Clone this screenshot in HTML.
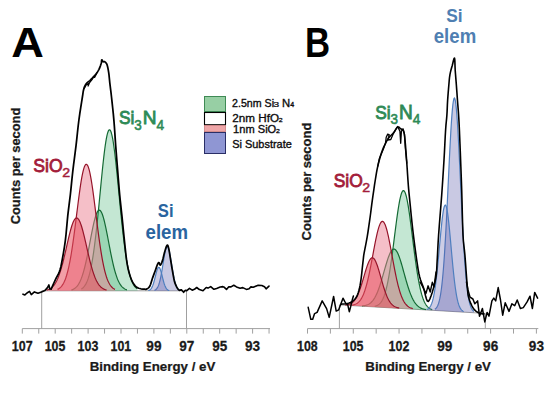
<!DOCTYPE html>
<html><head><meta charset="utf-8"><style>
html,body{margin:0;padding:0;background:#fff;}
svg{display:block;}
</style></head><body>
<svg width="553" height="394" viewBox="0 0 553 394">
<rect width="553" height="394" fill="#fff"/>
<line x1="22.3" y1="328.6" x2="270" y2="328.6" stroke="#a0a0a0" stroke-width="1"/><line x1="22.30" y1="328.6" x2="22.30" y2="333.6" stroke="#a0a0a0" stroke-width="1"/><line x1="38.75" y1="328.6" x2="38.75" y2="333.6" stroke="#a0a0a0" stroke-width="1"/><line x1="55.20" y1="328.6" x2="55.20" y2="333.6" stroke="#a0a0a0" stroke-width="1"/><line x1="71.65" y1="328.6" x2="71.65" y2="333.6" stroke="#a0a0a0" stroke-width="1"/><line x1="88.10" y1="328.6" x2="88.10" y2="333.6" stroke="#a0a0a0" stroke-width="1"/><line x1="104.55" y1="328.6" x2="104.55" y2="333.6" stroke="#a0a0a0" stroke-width="1"/><line x1="121.00" y1="328.6" x2="121.00" y2="333.6" stroke="#a0a0a0" stroke-width="1"/><line x1="137.45" y1="328.6" x2="137.45" y2="333.6" stroke="#a0a0a0" stroke-width="1"/><line x1="153.90" y1="328.6" x2="153.90" y2="333.6" stroke="#a0a0a0" stroke-width="1"/><line x1="170.35" y1="328.6" x2="170.35" y2="333.6" stroke="#a0a0a0" stroke-width="1"/><line x1="186.80" y1="328.6" x2="186.80" y2="333.6" stroke="#a0a0a0" stroke-width="1"/><line x1="203.25" y1="328.6" x2="203.25" y2="333.6" stroke="#a0a0a0" stroke-width="1"/><line x1="219.70" y1="328.6" x2="219.70" y2="333.6" stroke="#a0a0a0" stroke-width="1"/><line x1="236.15" y1="328.6" x2="236.15" y2="333.6" stroke="#a0a0a0" stroke-width="1"/><line x1="252.60" y1="328.6" x2="252.60" y2="333.6" stroke="#a0a0a0" stroke-width="1"/><line x1="269.05" y1="328.6" x2="269.05" y2="333.6" stroke="#a0a0a0" stroke-width="1"/><line x1="41.7" y1="290.8" x2="186.5" y2="290.8" stroke="#a0a0a0" stroke-width="1"/><line x1="41.7" y1="290.8" x2="41.7" y2="328.6" stroke="#a0a0a0" stroke-width="1"/><line x1="186.5" y1="290.8" x2="186.5" y2="328.6" stroke="#a0a0a0" stroke-width="1"/><line x1="307.5" y1="328.6" x2="538.3" y2="328.6" stroke="#a0a0a0" stroke-width="1"/><line x1="307.50" y1="328.6" x2="307.50" y2="333.6" stroke="#a0a0a0" stroke-width="1"/><line x1="330.39" y1="328.6" x2="330.39" y2="333.6" stroke="#a0a0a0" stroke-width="1"/><line x1="353.28" y1="328.6" x2="353.28" y2="333.6" stroke="#a0a0a0" stroke-width="1"/><line x1="376.17" y1="328.6" x2="376.17" y2="333.6" stroke="#a0a0a0" stroke-width="1"/><line x1="399.06" y1="328.6" x2="399.06" y2="333.6" stroke="#a0a0a0" stroke-width="1"/><line x1="421.95" y1="328.6" x2="421.95" y2="333.6" stroke="#a0a0a0" stroke-width="1"/><line x1="444.84" y1="328.6" x2="444.84" y2="333.6" stroke="#a0a0a0" stroke-width="1"/><line x1="467.73" y1="328.6" x2="467.73" y2="333.6" stroke="#a0a0a0" stroke-width="1"/><line x1="490.62" y1="328.6" x2="490.62" y2="333.6" stroke="#a0a0a0" stroke-width="1"/><line x1="513.51" y1="328.6" x2="513.51" y2="333.6" stroke="#a0a0a0" stroke-width="1"/><line x1="536.40" y1="328.6" x2="536.40" y2="333.6" stroke="#a0a0a0" stroke-width="1"/><line x1="339.4" y1="304.87" x2="485.3" y2="313.42" stroke="#a0a0a0" stroke-width="1"/><line x1="339.4" y1="304.87" x2="339.4" y2="328.6" stroke="#a0a0a0" stroke-width="1"/><line x1="485.3" y1="313.42" x2="485.3" y2="328.6" stroke="#a0a0a0" stroke-width="1"/>
<path d="M81.30,289.01 L81.80,288.70 L82.30,288.35 L82.80,287.95 L83.30,287.49 L83.80,286.97 L84.30,286.37 L84.80,285.70 L85.30,284.94 L85.80,284.09 L86.30,283.14 L86.80,282.08 L87.30,280.90 L87.80,279.59 L88.30,278.14 L88.80,276.55 L89.30,274.80 L89.80,272.89 L90.30,270.81 L90.80,268.54 L91.30,266.09 L91.80,263.45 L92.30,260.62 L92.80,257.58 L93.30,254.34 L93.80,250.89 L94.30,247.24 L94.80,243.40 L95.30,239.36 L95.80,235.14 L96.30,230.73 L96.80,226.17 L97.30,221.45 L97.80,216.60 L98.30,211.63 L98.80,206.57 L99.30,201.44 L99.80,196.26 L100.30,191.07 L100.80,185.89 L101.30,180.75 L101.80,175.69 L102.30,170.73 L102.80,165.92 L103.30,161.27 L103.80,156.84 L104.30,152.64 L104.80,148.72 L105.30,145.09 L105.80,141.80 L106.30,138.86 L106.80,136.31 L107.30,134.15 L107.80,132.41 L108.30,131.11 L108.80,130.25 L109.30,129.84 L109.80,129.88 L110.30,130.38 L110.80,131.33 L111.30,132.72 L111.80,134.55 L112.30,136.79 L112.80,139.42 L113.30,142.43 L113.80,145.79 L114.30,149.48 L114.80,153.46 L115.30,157.71 L115.80,162.19 L116.30,166.87 L116.80,171.71 L117.30,176.69 L117.80,181.77 L118.30,186.92 L118.80,192.11 L119.30,197.30 L119.80,202.47 L120.30,207.59 L120.80,212.63 L121.30,217.58 L121.80,222.40 L122.30,227.09 L122.80,231.63 L123.30,236.00 L123.80,240.18 L124.30,244.18 L124.80,247.99 L125.30,251.60 L125.80,255.00 L126.30,258.20 L126.80,261.20 L127.30,264.00 L127.80,266.60 L128.30,269.01 L128.80,271.24 L129.30,273.29 L129.80,275.16 L130.30,276.88 L130.80,278.44 L131.30,279.86 L131.80,281.15 L132.30,282.30 L132.80,283.34 L133.30,284.27 L133.80,285.10 L134.30,285.84 L134.80,286.50 L135.30,287.08 L135.80,287.59 L136.30,288.03 L136.80,288.43 L137.30,288.77 L137.70,290.80 L81.30,290.80 Z" fill="rgb(60,175,110)" fill-opacity="0.3" stroke="none"/>
<path d="M81.30,289.01 L81.80,288.70 L82.30,288.35 L82.80,287.95 L83.30,287.49 L83.80,286.97 L84.30,286.37 L84.80,285.70 L85.30,284.94 L85.80,284.09 L86.30,283.14 L86.80,282.08 L87.30,280.90 L87.80,279.59 L88.30,278.14 L88.80,276.55 L89.30,274.80 L89.80,272.89 L90.30,270.81 L90.80,268.54 L91.30,266.09 L91.80,263.45 L92.30,260.62 L92.80,257.58 L93.30,254.34 L93.80,250.89 L94.30,247.24 L94.80,243.40 L95.30,239.36 L95.80,235.14 L96.30,230.73 L96.80,226.17 L97.30,221.45 L97.80,216.60 L98.30,211.63 L98.80,206.57 L99.30,201.44 L99.80,196.26 L100.30,191.07 L100.80,185.89 L101.30,180.75 L101.80,175.69 L102.30,170.73 L102.80,165.92 L103.30,161.27 L103.80,156.84 L104.30,152.64 L104.80,148.72 L105.30,145.09 L105.80,141.80 L106.30,138.86 L106.80,136.31 L107.30,134.15 L107.80,132.41 L108.30,131.11 L108.80,130.25 L109.30,129.84 L109.80,129.88 L110.30,130.38 L110.80,131.33 L111.30,132.72 L111.80,134.55 L112.30,136.79 L112.80,139.42 L113.30,142.43 L113.80,145.79 L114.30,149.48 L114.80,153.46 L115.30,157.71 L115.80,162.19 L116.30,166.87 L116.80,171.71 L117.30,176.69 L117.80,181.77 L118.30,186.92 L118.80,192.11 L119.30,197.30 L119.80,202.47 L120.30,207.59 L120.80,212.63 L121.30,217.58 L121.80,222.40 L122.30,227.09 L122.80,231.63 L123.30,236.00 L123.80,240.18 L124.30,244.18 L124.80,247.99 L125.30,251.60 L125.80,255.00 L126.30,258.20 L126.80,261.20 L127.30,264.00 L127.80,266.60 L128.30,269.01 L128.80,271.24 L129.30,273.29 L129.80,275.16 L130.30,276.88 L130.80,278.44 L131.30,279.86 L131.80,281.15 L132.30,282.30 L132.80,283.34 L133.30,284.27 L133.80,285.10 L134.30,285.84 L134.80,286.50 L135.30,287.08 L135.80,287.59 L136.30,288.03 L136.80,288.43 L137.30,288.77" fill="none" stroke="#146a34" stroke-width="1.2"/>
<path d="M71.40,289.90 L71.90,289.75 L72.40,289.57 L72.90,289.37 L73.40,289.13 L73.90,288.87 L74.40,288.56 L74.90,288.22 L75.40,287.83 L75.90,287.40 L76.40,286.91 L76.90,286.37 L77.40,285.76 L77.90,285.09 L78.40,284.35 L78.90,283.53 L79.40,282.63 L79.90,281.65 L80.40,280.58 L80.90,279.42 L81.40,278.16 L81.90,276.80 L82.40,275.34 L82.90,273.78 L83.40,272.11 L83.90,270.34 L84.40,268.47 L84.90,266.49 L85.40,264.42 L85.90,262.26 L86.40,260.00 L86.90,257.66 L87.40,255.25 L87.90,252.78 L88.40,250.25 L88.90,247.67 L89.40,245.06 L89.90,242.44 L90.40,239.81 L90.90,237.20 L91.40,234.61 L91.90,232.07 L92.40,229.59 L92.90,227.19 L93.40,224.89 L93.90,222.70 L94.40,220.65 L94.90,218.73 L95.40,216.98 L95.90,215.41 L96.40,214.02 L96.90,212.84 L97.40,211.86 L97.90,211.11 L98.40,210.58 L98.90,210.27 L99.40,210.20 L99.90,210.37 L100.40,210.76 L100.90,211.38 L101.40,212.23 L101.90,213.29 L102.40,214.56 L102.90,216.02 L103.40,217.66 L103.90,219.48 L104.40,221.45 L104.90,223.56 L105.40,225.80 L105.90,228.14 L106.40,230.58 L106.90,233.08 L107.40,235.64 L107.90,238.24 L108.40,240.86 L108.90,243.49 L109.40,246.11 L109.90,248.70 L110.40,251.26 L110.90,253.77 L111.40,256.23 L111.90,258.61 L112.40,260.91 L112.90,263.13 L113.40,265.26 L113.90,267.29 L114.40,269.23 L114.90,271.06 L115.40,272.79 L115.90,274.41 L116.40,275.93 L116.90,277.35 L117.40,278.67 L117.90,279.89 L118.40,281.02 L118.90,282.05 L119.40,283.00 L119.90,283.87 L120.40,284.65 L120.90,285.37 L121.40,286.01 L121.90,286.59 L122.40,287.11 L122.90,287.58 L123.40,287.99 L123.90,288.36 L124.40,288.69 L124.90,288.98 L125.40,289.23 L125.90,289.45 L126.40,289.65 L126.90,289.81 L127.20,290.80 L71.40,290.80 Z" fill="rgb(60,175,110)" fill-opacity="0.3" stroke="none"/>
<path d="M71.40,289.90 L71.90,289.75 L72.40,289.57 L72.90,289.37 L73.40,289.13 L73.90,288.87 L74.40,288.56 L74.90,288.22 L75.40,287.83 L75.90,287.40 L76.40,286.91 L76.90,286.37 L77.40,285.76 L77.90,285.09 L78.40,284.35 L78.90,283.53 L79.40,282.63 L79.90,281.65 L80.40,280.58 L80.90,279.42 L81.40,278.16 L81.90,276.80 L82.40,275.34 L82.90,273.78 L83.40,272.11 L83.90,270.34 L84.40,268.47 L84.90,266.49 L85.40,264.42 L85.90,262.26 L86.40,260.00 L86.90,257.66 L87.40,255.25 L87.90,252.78 L88.40,250.25 L88.90,247.67 L89.40,245.06 L89.90,242.44 L90.40,239.81 L90.90,237.20 L91.40,234.61 L91.90,232.07 L92.40,229.59 L92.90,227.19 L93.40,224.89 L93.90,222.70 L94.40,220.65 L94.90,218.73 L95.40,216.98 L95.90,215.41 L96.40,214.02 L96.90,212.84 L97.40,211.86 L97.90,211.11 L98.40,210.58 L98.90,210.27 L99.40,210.20 L99.90,210.37 L100.40,210.76 L100.90,211.38 L101.40,212.23 L101.90,213.29 L102.40,214.56 L102.90,216.02 L103.40,217.66 L103.90,219.48 L104.40,221.45 L104.90,223.56 L105.40,225.80 L105.90,228.14 L106.40,230.58 L106.90,233.08 L107.40,235.64 L107.90,238.24 L108.40,240.86 L108.90,243.49 L109.40,246.11 L109.90,248.70 L110.40,251.26 L110.90,253.77 L111.40,256.23 L111.90,258.61 L112.40,260.91 L112.90,263.13 L113.40,265.26 L113.90,267.29 L114.40,269.23 L114.90,271.06 L115.40,272.79 L115.90,274.41 L116.40,275.93 L116.90,277.35 L117.40,278.67 L117.90,279.89 L118.40,281.02 L118.90,282.05 L119.40,283.00 L119.90,283.87 L120.40,284.65 L120.90,285.37 L121.40,286.01 L121.90,286.59 L122.40,287.11 L122.90,287.58 L123.40,287.99 L123.90,288.36 L124.40,288.69 L124.90,288.98 L125.40,289.23 L125.90,289.45 L126.40,289.65 L126.90,289.81" fill="none" stroke="#146a34" stroke-width="1.2"/>
<path d="M57.50,289.39 L58.00,289.16 L58.50,288.89 L59.00,288.58 L59.50,288.23 L60.00,287.83 L60.50,287.38 L61.00,286.87 L61.50,286.30 L62.00,285.66 L62.50,284.95 L63.00,284.15 L63.50,283.26 L64.00,282.28 L64.50,281.20 L65.00,280.01 L65.50,278.70 L66.00,277.28 L66.50,275.72 L67.00,274.03 L67.50,272.21 L68.00,270.24 L68.50,268.12 L69.00,265.86 L69.50,263.44 L70.00,260.87 L70.50,258.15 L71.00,255.28 L71.50,252.25 L72.00,249.09 L72.50,245.78 L73.00,242.35 L73.50,238.79 L74.00,235.13 L74.50,231.37 L75.00,227.53 L75.50,223.62 L76.00,219.66 L76.50,215.67 L77.00,211.68 L77.50,207.70 L78.00,203.75 L78.50,199.86 L79.00,196.06 L79.50,192.37 L80.00,188.81 L80.50,185.40 L81.00,182.18 L81.50,179.16 L82.00,176.37 L82.50,173.83 L83.00,171.56 L83.50,169.57 L84.00,167.88 L84.50,166.50 L85.00,165.45 L85.50,164.74 L86.00,164.36 L86.50,164.33 L87.00,164.64 L87.50,165.28 L88.00,166.27 L88.50,167.58 L89.00,169.21 L89.50,171.14 L90.00,173.36 L90.50,175.85 L91.00,178.59 L91.50,181.56 L92.00,184.74 L92.50,188.11 L93.00,191.64 L93.50,195.31 L94.00,199.10 L94.50,202.97 L95.00,206.90 L95.50,210.88 L96.00,214.87 L96.50,218.86 L97.00,222.83 L97.50,226.75 L98.00,230.61 L98.50,234.39 L99.00,238.07 L99.50,241.65 L100.00,245.11 L100.50,248.44 L101.00,251.63 L101.50,254.68 L102.00,257.59 L102.50,260.34 L103.00,262.94 L103.50,265.39 L104.00,267.68 L104.50,269.83 L105.00,271.83 L105.50,273.68 L106.00,275.39 L106.50,276.97 L107.00,278.43 L107.50,279.76 L108.00,280.97 L108.50,282.07 L109.00,283.07 L109.50,283.98 L110.00,284.79 L110.50,285.53 L111.00,286.18 L111.50,286.77 L112.00,287.29 L112.50,287.75 L113.00,288.16 L113.50,288.52 L114.00,288.83 L114.50,289.11 L115.00,289.35 L115.10,290.80 L57.50,290.80 Z" fill="rgb(236,128,145)" fill-opacity="0.5" stroke="none"/>
<path d="M57.50,289.39 L58.00,289.16 L58.50,288.89 L59.00,288.58 L59.50,288.23 L60.00,287.83 L60.50,287.38 L61.00,286.87 L61.50,286.30 L62.00,285.66 L62.50,284.95 L63.00,284.15 L63.50,283.26 L64.00,282.28 L64.50,281.20 L65.00,280.01 L65.50,278.70 L66.00,277.28 L66.50,275.72 L67.00,274.03 L67.50,272.21 L68.00,270.24 L68.50,268.12 L69.00,265.86 L69.50,263.44 L70.00,260.87 L70.50,258.15 L71.00,255.28 L71.50,252.25 L72.00,249.09 L72.50,245.78 L73.00,242.35 L73.50,238.79 L74.00,235.13 L74.50,231.37 L75.00,227.53 L75.50,223.62 L76.00,219.66 L76.50,215.67 L77.00,211.68 L77.50,207.70 L78.00,203.75 L78.50,199.86 L79.00,196.06 L79.50,192.37 L80.00,188.81 L80.50,185.40 L81.00,182.18 L81.50,179.16 L82.00,176.37 L82.50,173.83 L83.00,171.56 L83.50,169.57 L84.00,167.88 L84.50,166.50 L85.00,165.45 L85.50,164.74 L86.00,164.36 L86.50,164.33 L87.00,164.64 L87.50,165.28 L88.00,166.27 L88.50,167.58 L89.00,169.21 L89.50,171.14 L90.00,173.36 L90.50,175.85 L91.00,178.59 L91.50,181.56 L92.00,184.74 L92.50,188.11 L93.00,191.64 L93.50,195.31 L94.00,199.10 L94.50,202.97 L95.00,206.90 L95.50,210.88 L96.00,214.87 L96.50,218.86 L97.00,222.83 L97.50,226.75 L98.00,230.61 L98.50,234.39 L99.00,238.07 L99.50,241.65 L100.00,245.11 L100.50,248.44 L101.00,251.63 L101.50,254.68 L102.00,257.59 L102.50,260.34 L103.00,262.94 L103.50,265.39 L104.00,267.68 L104.50,269.83 L105.00,271.83 L105.50,273.68 L106.00,275.39 L106.50,276.97 L107.00,278.43 L107.50,279.76 L108.00,280.97 L108.50,282.07 L109.00,283.07 L109.50,283.98 L110.00,284.79 L110.50,285.53 L111.00,286.18 L111.50,286.77 L112.00,287.29 L112.50,287.75 L113.00,288.16 L113.50,288.52 L114.00,288.83 L114.50,289.11 L115.00,289.35" fill="none" stroke="#96142a" stroke-width="1.2"/>
<path d="M46.60,289.99 L47.10,289.86 L47.60,289.71 L48.10,289.55 L48.60,289.36 L49.10,289.14 L49.60,288.90 L50.10,288.63 L50.60,288.32 L51.10,287.98 L51.60,287.60 L52.10,287.18 L52.60,286.71 L53.10,286.20 L53.60,285.63 L54.10,285.01 L54.60,284.33 L55.10,283.58 L55.60,282.77 L56.10,281.90 L56.60,280.95 L57.10,279.93 L57.60,278.83 L58.10,277.65 L58.60,276.39 L59.10,275.06 L59.60,273.64 L60.10,272.14 L60.60,270.56 L61.10,268.90 L61.60,267.17 L62.10,265.36 L62.60,263.48 L63.10,261.53 L63.60,259.53 L64.10,257.47 L64.60,255.36 L65.10,253.22 L65.60,251.05 L66.10,248.85 L66.60,246.64 L67.10,244.44 L67.60,242.24 L68.10,240.07 L68.60,237.94 L69.10,235.85 L69.60,233.82 L70.10,231.86 L70.60,229.99 L71.10,228.22 L71.60,226.55 L72.10,225.01 L72.60,223.60 L73.10,222.33 L73.60,221.20 L74.10,220.24 L74.60,219.44 L75.10,218.81 L75.60,218.36 L76.10,218.09 L76.60,218.00 L77.10,218.09 L77.60,218.36 L78.10,218.81 L78.60,219.44 L79.10,220.24 L79.60,221.20 L80.10,222.33 L80.60,223.60 L81.10,225.01 L81.60,226.55 L82.10,228.22 L82.60,229.99 L83.10,231.86 L83.60,233.82 L84.10,235.85 L84.60,237.94 L85.10,240.07 L85.60,242.24 L86.10,244.44 L86.60,246.64 L87.10,248.85 L87.60,251.05 L88.10,253.22 L88.60,255.36 L89.10,257.47 L89.60,259.53 L90.10,261.53 L90.60,263.48 L91.10,265.36 L91.60,267.17 L92.10,268.90 L92.60,270.56 L93.10,272.14 L93.60,273.64 L94.10,275.06 L94.60,276.39 L95.10,277.65 L95.60,278.83 L96.10,279.93 L96.60,280.95 L97.10,281.90 L97.60,282.77 L98.10,283.58 L98.60,284.33 L99.10,285.01 L99.60,285.63 L100.10,286.20 L100.60,286.71 L101.10,287.18 L101.60,287.60 L102.10,287.98 L102.60,288.32 L103.10,288.63 L103.60,288.90 L104.10,289.14 L104.60,289.36 L105.10,289.55 L105.60,289.71 L106.10,289.86 L106.60,289.99 L106.60,290.80 L46.60,290.80 Z" fill="rgb(232,80,95)" fill-opacity="0.55" stroke="none"/>
<path d="M46.60,289.99 L47.10,289.86 L47.60,289.71 L48.10,289.55 L48.60,289.36 L49.10,289.14 L49.60,288.90 L50.10,288.63 L50.60,288.32 L51.10,287.98 L51.60,287.60 L52.10,287.18 L52.60,286.71 L53.10,286.20 L53.60,285.63 L54.10,285.01 L54.60,284.33 L55.10,283.58 L55.60,282.77 L56.10,281.90 L56.60,280.95 L57.10,279.93 L57.60,278.83 L58.10,277.65 L58.60,276.39 L59.10,275.06 L59.60,273.64 L60.10,272.14 L60.60,270.56 L61.10,268.90 L61.60,267.17 L62.10,265.36 L62.60,263.48 L63.10,261.53 L63.60,259.53 L64.10,257.47 L64.60,255.36 L65.10,253.22 L65.60,251.05 L66.10,248.85 L66.60,246.64 L67.10,244.44 L67.60,242.24 L68.10,240.07 L68.60,237.94 L69.10,235.85 L69.60,233.82 L70.10,231.86 L70.60,229.99 L71.10,228.22 L71.60,226.55 L72.10,225.01 L72.60,223.60 L73.10,222.33 L73.60,221.20 L74.10,220.24 L74.60,219.44 L75.10,218.81 L75.60,218.36 L76.10,218.09 L76.60,218.00 L77.10,218.09 L77.60,218.36 L78.10,218.81 L78.60,219.44 L79.10,220.24 L79.60,221.20 L80.10,222.33 L80.60,223.60 L81.10,225.01 L81.60,226.55 L82.10,228.22 L82.60,229.99 L83.10,231.86 L83.60,233.82 L84.10,235.85 L84.60,237.94 L85.10,240.07 L85.60,242.24 L86.10,244.44 L86.60,246.64 L87.10,248.85 L87.60,251.05 L88.10,253.22 L88.60,255.36 L89.10,257.47 L89.60,259.53 L90.10,261.53 L90.60,263.48 L91.10,265.36 L91.60,267.17 L92.10,268.90 L92.60,270.56 L93.10,272.14 L93.60,273.64 L94.10,275.06 L94.60,276.39 L95.10,277.65 L95.60,278.83 L96.10,279.93 L96.60,280.95 L97.10,281.90 L97.60,282.77 L98.10,283.58 L98.60,284.33 L99.10,285.01 L99.60,285.63 L100.10,286.20 L100.60,286.71 L101.10,287.18 L101.60,287.60 L102.10,287.98 L102.60,288.32 L103.10,288.63 L103.60,288.90 L104.10,289.14 L104.60,289.36 L105.10,289.55 L105.60,289.71 L106.10,289.86 L106.60,289.99" fill="none" stroke="#96142a" stroke-width="1.2"/>
<path d="M154.40,290.31 L154.90,290.11 L155.40,289.84 L155.90,289.49 L156.40,289.03 L156.90,288.44 L157.40,287.69 L157.90,286.77 L158.40,285.63 L158.90,284.27 L159.40,282.66 L159.90,280.79 L160.40,278.66 L160.90,276.26 L161.40,273.64 L161.90,270.80 L162.40,267.81 L162.90,264.73 L163.40,261.64 L163.90,258.61 L164.40,255.75 L164.90,253.15 L165.40,250.89 L165.90,249.07 L166.40,247.75 L166.90,246.99 L167.40,246.81 L167.90,247.23 L168.40,248.22 L168.90,249.74 L169.40,251.75 L169.90,254.15 L170.40,256.87 L170.90,259.81 L171.40,262.87 L171.90,265.97 L172.40,269.02 L172.90,271.96 L173.40,274.71 L173.90,277.25 L174.40,279.54 L174.90,281.57 L175.40,283.34 L175.90,284.85 L176.40,286.11 L176.90,287.16 L177.40,288.01 L177.90,288.69 L178.40,289.23 L178.90,289.64 L179.40,289.96 L179.90,290.20 L180.20,290.80 L154.40,290.80 Z" fill="rgb(100,100,176)" fill-opacity="0.35" stroke="none"/>
<path d="M154.40,290.31 L154.90,290.11 L155.40,289.84 L155.90,289.49 L156.40,289.03 L156.90,288.44 L157.40,287.69 L157.90,286.77 L158.40,285.63 L158.90,284.27 L159.40,282.66 L159.90,280.79 L160.40,278.66 L160.90,276.26 L161.40,273.64 L161.90,270.80 L162.40,267.81 L162.90,264.73 L163.40,261.64 L163.90,258.61 L164.40,255.75 L164.90,253.15 L165.40,250.89 L165.90,249.07 L166.40,247.75 L166.90,246.99 L167.40,246.81 L167.90,247.23 L168.40,248.22 L168.90,249.74 L169.40,251.75 L169.90,254.15 L170.40,256.87 L170.90,259.81 L171.40,262.87 L171.90,265.97 L172.40,269.02 L172.90,271.96 L173.40,274.71 L173.90,277.25 L174.40,279.54 L174.90,281.57 L175.40,283.34 L175.90,284.85 L176.40,286.11 L176.90,287.16 L177.40,288.01 L177.90,288.69 L178.40,289.23 L178.90,289.64 L179.40,289.96 L179.90,290.20" fill="none" stroke="#4f7fbf" stroke-width="1.2"/>
<path d="M148.30,290.54 L148.80,290.40 L149.30,290.21 L149.80,289.94 L150.30,289.57 L150.80,289.08 L151.30,288.43 L151.80,287.62 L152.30,286.61 L152.80,285.39 L153.30,283.96 L153.80,282.33 L154.30,280.52 L154.80,278.57 L155.30,276.55 L155.80,274.52 L156.30,272.59 L156.80,270.84 L157.30,269.36 L157.80,268.24 L158.30,267.54 L158.80,267.30 L159.30,267.54 L159.80,268.24 L160.30,269.36 L160.80,270.84 L161.30,272.59 L161.80,274.52 L162.30,276.55 L162.80,278.57 L163.30,280.52 L163.80,282.33 L164.30,283.96 L164.80,285.39 L165.30,286.61 L165.80,287.62 L166.30,288.43 L166.80,289.08 L167.30,289.57 L167.80,289.94 L168.30,290.21 L168.80,290.40 L169.30,290.54 L169.30,290.80 L148.30,290.80 Z" fill="rgb(90,90,168)" fill-opacity="0.3" stroke="none"/>
<path d="M148.30,290.54 L148.80,290.40 L149.30,290.21 L149.80,289.94 L150.30,289.57 L150.80,289.08 L151.30,288.43 L151.80,287.62 L152.30,286.61 L152.80,285.39 L153.30,283.96 L153.80,282.33 L154.30,280.52 L154.80,278.57 L155.30,276.55 L155.80,274.52 L156.30,272.59 L156.80,270.84 L157.30,269.36 L157.80,268.24 L158.30,267.54 L158.80,267.30 L159.30,267.54 L159.80,268.24 L160.30,269.36 L160.80,270.84 L161.30,272.59 L161.80,274.52 L162.30,276.55 L162.80,278.57 L163.30,280.52 L163.80,282.33 L164.30,283.96 L164.80,285.39 L165.30,286.61 L165.80,287.62 L166.30,288.43 L166.80,289.08 L167.30,289.57 L167.80,289.94 L168.30,290.21 L168.80,290.40 L169.30,290.54" fill="none" stroke="#4f7fbf" stroke-width="1.2"/>
<path d="M374.70,306.23 L375.20,306.12 L375.70,305.99 L376.20,305.84 L376.70,305.65 L377.20,305.43 L377.70,305.17 L378.20,304.87 L378.70,304.52 L379.20,304.12 L379.70,303.65 L380.20,303.12 L380.70,302.52 L381.20,301.84 L381.70,301.07 L382.20,300.20 L382.70,299.24 L383.20,298.16 L383.70,296.97 L384.20,295.65 L384.70,294.21 L385.20,292.62 L385.70,290.89 L386.20,289.01 L386.70,286.97 L387.20,284.78 L387.70,282.43 L388.20,279.91 L388.70,277.23 L389.20,274.39 L389.70,271.39 L390.20,268.25 L390.70,264.95 L391.20,261.53 L391.70,257.97 L392.20,254.31 L392.70,250.55 L393.20,246.72 L393.70,242.82 L394.20,238.89 L394.70,234.95 L395.20,231.01 L395.70,227.11 L396.20,223.27 L396.70,219.53 L397.20,215.89 L397.70,212.41 L398.20,209.10 L398.70,205.99 L399.20,203.10 L399.70,200.46 L400.20,198.10 L400.70,196.03 L401.20,194.28 L401.70,192.85 L402.20,191.77 L402.70,191.04 L403.20,190.67 L403.70,190.66 L404.20,191.02 L404.70,191.74 L405.20,192.81 L405.70,194.23 L406.20,195.97 L406.70,198.04 L407.20,200.40 L407.70,203.04 L408.20,205.94 L408.70,209.07 L409.20,212.40 L409.70,215.91 L410.20,219.57 L410.70,223.36 L411.20,227.24 L411.70,231.19 L412.20,235.18 L412.70,239.18 L413.20,243.18 L413.70,247.14 L414.20,251.05 L414.70,254.88 L415.20,258.62 L415.70,262.25 L416.20,265.77 L416.70,269.15 L417.20,272.38 L417.70,275.47 L418.20,278.40 L418.70,281.17 L419.20,283.77 L419.70,286.22 L420.20,288.50 L420.70,290.63 L421.20,292.60 L421.70,294.42 L422.20,296.09 L422.70,297.62 L423.20,299.03 L423.70,300.30 L424.20,301.46 L424.70,302.50 L425.20,303.45 L425.70,304.29 L426.20,305.05 L426.70,305.73 L427.20,306.33 L427.70,306.87 L428.20,307.34 L428.70,307.76 L429.20,308.13 L429.70,308.45 L430.20,308.74 L430.70,308.99 L431.20,309.21 L431.70,309.40 L432.20,309.57 L432.30,310.31 L374.70,306.94 Z" fill="rgb(60,175,110)" fill-opacity="0.3" stroke="none"/>
<path d="M374.70,306.23 L375.20,306.12 L375.70,305.99 L376.20,305.84 L376.70,305.65 L377.20,305.43 L377.70,305.17 L378.20,304.87 L378.70,304.52 L379.20,304.12 L379.70,303.65 L380.20,303.12 L380.70,302.52 L381.20,301.84 L381.70,301.07 L382.20,300.20 L382.70,299.24 L383.20,298.16 L383.70,296.97 L384.20,295.65 L384.70,294.21 L385.20,292.62 L385.70,290.89 L386.20,289.01 L386.70,286.97 L387.20,284.78 L387.70,282.43 L388.20,279.91 L388.70,277.23 L389.20,274.39 L389.70,271.39 L390.20,268.25 L390.70,264.95 L391.20,261.53 L391.70,257.97 L392.20,254.31 L392.70,250.55 L393.20,246.72 L393.70,242.82 L394.20,238.89 L394.70,234.95 L395.20,231.01 L395.70,227.11 L396.20,223.27 L396.70,219.53 L397.20,215.89 L397.70,212.41 L398.20,209.10 L398.70,205.99 L399.20,203.10 L399.70,200.46 L400.20,198.10 L400.70,196.03 L401.20,194.28 L401.70,192.85 L402.20,191.77 L402.70,191.04 L403.20,190.67 L403.70,190.66 L404.20,191.02 L404.70,191.74 L405.20,192.81 L405.70,194.23 L406.20,195.97 L406.70,198.04 L407.20,200.40 L407.70,203.04 L408.20,205.94 L408.70,209.07 L409.20,212.40 L409.70,215.91 L410.20,219.57 L410.70,223.36 L411.20,227.24 L411.70,231.19 L412.20,235.18 L412.70,239.18 L413.20,243.18 L413.70,247.14 L414.20,251.05 L414.70,254.88 L415.20,258.62 L415.70,262.25 L416.20,265.77 L416.70,269.15 L417.20,272.38 L417.70,275.47 L418.20,278.40 L418.70,281.17 L419.20,283.77 L419.70,286.22 L420.20,288.50 L420.70,290.63 L421.20,292.60 L421.70,294.42 L422.20,296.09 L422.70,297.62 L423.20,299.03 L423.70,300.30 L424.20,301.46 L424.70,302.50 L425.20,303.45 L425.70,304.29 L426.20,305.05 L426.70,305.73 L427.20,306.33 L427.70,306.87 L428.20,307.34 L428.70,307.76 L429.20,308.13 L429.70,308.45 L430.20,308.74 L430.70,308.99 L431.20,309.21 L431.70,309.40 L432.20,309.57" fill="none" stroke="#146a34" stroke-width="1.2"/>
<path d="M362.00,305.84 L362.50,305.81 L363.00,305.77 L363.50,305.72 L364.00,305.65 L364.50,305.58 L365.00,305.49 L365.50,305.38 L366.00,305.25 L366.50,305.11 L367.00,304.94 L367.50,304.75 L368.00,304.53 L368.50,304.29 L369.00,304.01 L369.50,303.70 L370.00,303.35 L370.50,302.96 L371.00,302.53 L371.50,302.05 L372.00,301.53 L372.50,300.96 L373.00,300.33 L373.50,299.65 L374.00,298.91 L374.50,298.11 L375.00,297.25 L375.50,296.32 L376.00,295.34 L376.50,294.28 L377.00,293.16 L377.50,291.98 L378.00,290.72 L378.50,289.41 L379.00,288.03 L379.50,286.60 L380.00,285.10 L380.50,283.56 L381.00,281.96 L381.50,280.32 L382.00,278.64 L382.50,276.94 L383.00,275.20 L383.50,273.45 L384.00,271.69 L384.50,269.94 L385.00,268.19 L385.50,266.46 L386.00,264.75 L386.50,263.09 L387.00,261.48 L387.50,259.92 L388.00,258.43 L388.50,257.03 L389.00,255.71 L389.50,254.48 L390.00,253.37 L390.50,252.37 L391.00,251.49 L391.50,250.74 L392.00,250.12 L392.50,249.64 L393.00,249.30 L393.50,249.11 L394.00,249.07 L394.50,249.17 L395.00,249.42 L395.50,249.81 L396.00,250.35 L396.50,251.03 L397.00,251.84 L397.50,252.78 L398.00,253.84 L398.50,255.01 L399.00,256.29 L399.50,257.67 L400.00,259.14 L400.50,260.68 L401.00,262.30 L401.50,263.97 L402.00,265.69 L402.50,267.45 L403.00,269.24 L403.50,271.05 L404.00,272.87 L404.50,274.68 L405.00,276.49 L405.50,278.28 L406.00,280.05 L406.50,281.79 L407.00,283.48 L407.50,285.14 L408.00,286.74 L408.50,288.30 L409.00,289.79 L409.50,291.23 L410.00,292.60 L410.50,293.91 L411.00,295.15 L411.50,296.33 L412.00,297.45 L412.50,298.49 L413.00,299.48 L413.50,300.40 L414.00,301.25 L414.50,302.05 L415.00,302.79 L415.50,303.48 L416.00,304.11 L416.50,304.69 L417.00,305.22 L417.50,305.71 L418.00,306.16 L418.50,306.57 L419.00,306.94 L419.50,307.28 L420.00,307.58 L420.50,307.86 L421.00,308.11 L421.50,308.33 L422.00,308.54 L422.50,308.72 L423.00,308.89 L423.50,309.03 L424.00,309.17 L424.50,309.29 L425.00,309.40 L425.50,309.50 L426.00,309.59 L426.00,309.94 L362.00,306.19 Z" fill="rgb(60,175,110)" fill-opacity="0.3" stroke="none"/>
<path d="M362.00,305.84 L362.50,305.81 L363.00,305.77 L363.50,305.72 L364.00,305.65 L364.50,305.58 L365.00,305.49 L365.50,305.38 L366.00,305.25 L366.50,305.11 L367.00,304.94 L367.50,304.75 L368.00,304.53 L368.50,304.29 L369.00,304.01 L369.50,303.70 L370.00,303.35 L370.50,302.96 L371.00,302.53 L371.50,302.05 L372.00,301.53 L372.50,300.96 L373.00,300.33 L373.50,299.65 L374.00,298.91 L374.50,298.11 L375.00,297.25 L375.50,296.32 L376.00,295.34 L376.50,294.28 L377.00,293.16 L377.50,291.98 L378.00,290.72 L378.50,289.41 L379.00,288.03 L379.50,286.60 L380.00,285.10 L380.50,283.56 L381.00,281.96 L381.50,280.32 L382.00,278.64 L382.50,276.94 L383.00,275.20 L383.50,273.45 L384.00,271.69 L384.50,269.94 L385.00,268.19 L385.50,266.46 L386.00,264.75 L386.50,263.09 L387.00,261.48 L387.50,259.92 L388.00,258.43 L388.50,257.03 L389.00,255.71 L389.50,254.48 L390.00,253.37 L390.50,252.37 L391.00,251.49 L391.50,250.74 L392.00,250.12 L392.50,249.64 L393.00,249.30 L393.50,249.11 L394.00,249.07 L394.50,249.17 L395.00,249.42 L395.50,249.81 L396.00,250.35 L396.50,251.03 L397.00,251.84 L397.50,252.78 L398.00,253.84 L398.50,255.01 L399.00,256.29 L399.50,257.67 L400.00,259.14 L400.50,260.68 L401.00,262.30 L401.50,263.97 L402.00,265.69 L402.50,267.45 L403.00,269.24 L403.50,271.05 L404.00,272.87 L404.50,274.68 L405.00,276.49 L405.50,278.28 L406.00,280.05 L406.50,281.79 L407.00,283.48 L407.50,285.14 L408.00,286.74 L408.50,288.30 L409.00,289.79 L409.50,291.23 L410.00,292.60 L410.50,293.91 L411.00,295.15 L411.50,296.33 L412.00,297.45 L412.50,298.49 L413.00,299.48 L413.50,300.40 L414.00,301.25 L414.50,302.05 L415.00,302.79 L415.50,303.48 L416.00,304.11 L416.50,304.69 L417.00,305.22 L417.50,305.71 L418.00,306.16 L418.50,306.57 L419.00,306.94 L419.50,307.28 L420.00,307.58 L420.50,307.86 L421.00,308.11 L421.50,308.33 L422.00,308.54 L422.50,308.72 L423.00,308.89 L423.50,309.03 L424.00,309.17 L424.50,309.29 L425.00,309.40 L425.50,309.50 L426.00,309.59" fill="none" stroke="#146a34" stroke-width="1.2"/>
<path d="M351.78,305.08 L352.28,305.02 L352.78,304.94 L353.28,304.84 L353.78,304.73 L354.28,304.60 L354.78,304.44 L355.28,304.25 L355.78,304.04 L356.28,303.79 L356.78,303.51 L357.28,303.19 L357.78,302.82 L358.28,302.41 L358.78,301.94 L359.28,301.42 L359.78,300.83 L360.28,300.19 L360.78,299.47 L361.28,298.68 L361.78,297.80 L362.28,296.85 L362.78,295.81 L363.28,294.68 L363.78,293.45 L364.28,292.12 L364.78,290.70 L365.28,289.17 L365.78,287.54 L366.28,285.81 L366.78,283.97 L367.28,282.03 L367.78,279.99 L368.28,277.85 L368.78,275.62 L369.28,273.30 L369.78,270.90 L370.28,268.42 L370.78,265.89 L371.28,263.30 L371.78,260.66 L372.28,258.00 L372.78,255.31 L373.28,252.63 L373.78,249.95 L374.28,247.30 L374.78,244.70 L375.28,242.15 L375.78,239.69 L376.28,237.31 L376.78,235.04 L377.28,232.90 L377.78,230.91 L378.28,229.07 L378.78,227.39 L379.28,225.91 L379.78,224.62 L380.28,223.53 L380.78,222.66 L381.28,222.01 L381.78,221.59 L382.28,221.40 L382.78,221.45 L383.28,221.72 L383.78,222.23 L384.28,222.96 L384.78,223.92 L385.28,225.09 L385.78,226.46 L386.28,228.03 L386.78,229.78 L387.28,231.70 L387.78,233.77 L388.28,235.99 L388.78,238.33 L389.28,240.77 L389.78,243.31 L390.28,245.92 L390.78,248.59 L391.28,251.30 L391.78,254.04 L392.28,256.78 L392.78,259.52 L393.28,262.24 L393.78,264.93 L394.28,267.58 L394.78,270.16 L395.28,272.69 L395.78,275.14 L396.28,277.50 L396.78,279.78 L397.28,281.97 L397.78,284.06 L398.28,286.04 L398.78,287.93 L399.28,289.71 L399.78,291.39 L400.28,292.96 L400.78,294.43 L401.28,295.80 L401.78,297.08 L402.28,298.26 L402.78,299.35 L403.28,300.35 L403.78,301.27 L404.28,302.11 L404.78,302.88 L405.28,303.58 L405.78,304.21 L406.28,304.79 L406.78,305.30 L407.28,305.77 L407.78,306.19 L408.28,306.57 L408.78,306.90 L409.28,307.20 L409.78,307.47 L410.28,307.71 L410.78,307.93 L411.28,308.12 L411.78,308.29 L412.28,308.44 L412.78,308.57 L413.22,309.19 L351.78,305.59 Z" fill="rgb(236,128,145)" fill-opacity="0.5" stroke="none"/>
<path d="M351.78,305.08 L352.28,305.02 L352.78,304.94 L353.28,304.84 L353.78,304.73 L354.28,304.60 L354.78,304.44 L355.28,304.25 L355.78,304.04 L356.28,303.79 L356.78,303.51 L357.28,303.19 L357.78,302.82 L358.28,302.41 L358.78,301.94 L359.28,301.42 L359.78,300.83 L360.28,300.19 L360.78,299.47 L361.28,298.68 L361.78,297.80 L362.28,296.85 L362.78,295.81 L363.28,294.68 L363.78,293.45 L364.28,292.12 L364.78,290.70 L365.28,289.17 L365.78,287.54 L366.28,285.81 L366.78,283.97 L367.28,282.03 L367.78,279.99 L368.28,277.85 L368.78,275.62 L369.28,273.30 L369.78,270.90 L370.28,268.42 L370.78,265.89 L371.28,263.30 L371.78,260.66 L372.28,258.00 L372.78,255.31 L373.28,252.63 L373.78,249.95 L374.28,247.30 L374.78,244.70 L375.28,242.15 L375.78,239.69 L376.28,237.31 L376.78,235.04 L377.28,232.90 L377.78,230.91 L378.28,229.07 L378.78,227.39 L379.28,225.91 L379.78,224.62 L380.28,223.53 L380.78,222.66 L381.28,222.01 L381.78,221.59 L382.28,221.40 L382.78,221.45 L383.28,221.72 L383.78,222.23 L384.28,222.96 L384.78,223.92 L385.28,225.09 L385.78,226.46 L386.28,228.03 L386.78,229.78 L387.28,231.70 L387.78,233.77 L388.28,235.99 L388.78,238.33 L389.28,240.77 L389.78,243.31 L390.28,245.92 L390.78,248.59 L391.28,251.30 L391.78,254.04 L392.28,256.78 L392.78,259.52 L393.28,262.24 L393.78,264.93 L394.28,267.58 L394.78,270.16 L395.28,272.69 L395.78,275.14 L396.28,277.50 L396.78,279.78 L397.28,281.97 L397.78,284.06 L398.28,286.04 L398.78,287.93 L399.28,289.71 L399.78,291.39 L400.28,292.96 L400.78,294.43 L401.28,295.80 L401.78,297.08 L402.28,298.26 L402.78,299.35 L403.28,300.35 L403.78,301.27 L404.28,302.11 L404.78,302.88 L405.28,303.58 L405.78,304.21 L406.28,304.79 L406.78,305.30 L407.28,305.77 L407.78,306.19 L408.28,306.57 L408.78,306.90 L409.28,307.20 L409.78,307.47 L410.28,307.71 L410.78,307.93 L411.28,308.12 L411.78,308.29 L412.28,308.44 L412.78,308.57" fill="none" stroke="#96142a" stroke-width="1.2"/>
<path d="M345.20,304.91 L345.70,304.88 L346.20,304.84 L346.70,304.79 L347.20,304.72 L347.70,304.63 L348.20,304.53 L348.70,304.41 L349.20,304.26 L349.70,304.09 L350.20,303.88 L350.70,303.65 L351.20,303.37 L351.70,303.06 L352.20,302.71 L352.70,302.31 L353.20,301.85 L353.70,301.35 L354.20,300.78 L354.70,300.16 L355.20,299.47 L355.70,298.71 L356.20,297.88 L356.70,296.98 L357.20,296.01 L357.70,294.96 L358.20,293.83 L358.70,292.63 L359.20,291.35 L359.70,290.01 L360.20,288.59 L360.70,287.11 L361.20,285.58 L361.70,283.99 L362.20,282.35 L362.70,280.68 L363.20,278.98 L363.70,277.27 L364.20,275.55 L364.70,273.84 L365.20,272.15 L365.70,270.49 L366.20,268.88 L366.70,267.33 L367.20,265.86 L367.70,264.47 L368.20,263.19 L368.70,262.01 L369.20,260.97 L369.70,260.05 L370.20,259.29 L370.70,258.67 L371.20,258.22 L371.70,257.93 L372.20,257.80 L372.70,257.85 L373.20,258.06 L373.70,258.45 L374.20,258.99 L374.70,259.70 L375.20,260.55 L375.70,261.55 L376.20,262.68 L376.70,263.94 L377.20,265.30 L377.70,266.77 L378.20,268.32 L378.70,269.94 L379.20,271.62 L379.70,273.34 L380.20,275.10 L380.70,276.87 L381.20,278.64 L381.70,280.41 L382.20,282.17 L382.70,283.89 L383.20,285.57 L383.70,287.21 L384.20,288.80 L384.70,290.32 L385.20,291.78 L385.70,293.17 L386.20,294.49 L386.70,295.74 L387.20,296.91 L387.70,298.00 L388.20,299.02 L388.70,299.96 L389.20,300.84 L389.70,301.64 L390.20,302.37 L390.70,303.05 L391.20,303.66 L391.70,304.21 L392.20,304.71 L392.70,305.16 L393.20,305.57 L393.70,305.93 L394.20,306.25 L394.70,306.54 L395.20,306.79 L395.70,307.02 L396.20,307.22 L396.70,307.40 L397.20,307.56 L397.70,307.70 L398.20,307.82 L398.70,307.93 L399.20,308.03 L399.60,308.39 L345.20,305.21 Z" fill="rgb(232,80,95)" fill-opacity="0.55" stroke="none"/>
<path d="M345.20,304.91 L345.70,304.88 L346.20,304.84 L346.70,304.79 L347.20,304.72 L347.70,304.63 L348.20,304.53 L348.70,304.41 L349.20,304.26 L349.70,304.09 L350.20,303.88 L350.70,303.65 L351.20,303.37 L351.70,303.06 L352.20,302.71 L352.70,302.31 L353.20,301.85 L353.70,301.35 L354.20,300.78 L354.70,300.16 L355.20,299.47 L355.70,298.71 L356.20,297.88 L356.70,296.98 L357.20,296.01 L357.70,294.96 L358.20,293.83 L358.70,292.63 L359.20,291.35 L359.70,290.01 L360.20,288.59 L360.70,287.11 L361.20,285.58 L361.70,283.99 L362.20,282.35 L362.70,280.68 L363.20,278.98 L363.70,277.27 L364.20,275.55 L364.70,273.84 L365.20,272.15 L365.70,270.49 L366.20,268.88 L366.70,267.33 L367.20,265.86 L367.70,264.47 L368.20,263.19 L368.70,262.01 L369.20,260.97 L369.70,260.05 L370.20,259.29 L370.70,258.67 L371.20,258.22 L371.70,257.93 L372.20,257.80 L372.70,257.85 L373.20,258.06 L373.70,258.45 L374.20,258.99 L374.70,259.70 L375.20,260.55 L375.70,261.55 L376.20,262.68 L376.70,263.94 L377.20,265.30 L377.70,266.77 L378.20,268.32 L378.70,269.94 L379.20,271.62 L379.70,273.34 L380.20,275.10 L380.70,276.87 L381.20,278.64 L381.70,280.41 L382.20,282.17 L382.70,283.89 L383.20,285.57 L383.70,287.21 L384.20,288.80 L384.70,290.32 L385.20,291.78 L385.70,293.17 L386.20,294.49 L386.70,295.74 L387.20,296.91 L387.70,298.00 L388.20,299.02 L388.70,299.96 L389.20,300.84 L389.70,301.64 L390.20,302.37 L390.70,303.05 L391.20,303.66 L391.70,304.21 L392.20,304.71 L392.70,305.16 L393.20,305.57 L393.70,305.93 L394.20,306.25 L394.70,306.54 L395.20,306.79 L395.70,307.02 L396.20,307.22 L396.70,307.40 L397.20,307.56 L397.70,307.70 L398.20,307.82 L398.70,307.93 L399.20,308.03" fill="none" stroke="#96142a" stroke-width="1.2"/>
<path d="M434.88,309.19 L435.38,308.84 L435.88,308.39 L436.38,307.83 L436.88,307.13 L437.38,306.25 L437.88,305.18 L438.38,303.88 L438.88,302.31 L439.38,300.43 L439.88,298.19 L440.38,295.57 L440.88,292.50 L441.38,288.96 L441.88,284.89 L442.38,280.26 L442.88,275.04 L443.38,269.21 L443.88,262.73 L444.38,255.62 L444.88,247.88 L445.38,239.53 L445.88,230.61 L446.38,221.18 L446.88,211.31 L447.38,201.09 L447.88,190.63 L448.38,180.06 L448.88,169.51 L449.38,159.14 L449.88,149.10 L450.38,139.54 L450.88,130.64 L451.38,122.55 L451.88,115.42 L452.38,109.38 L452.88,104.54 L453.38,101.01 L453.88,98.85 L454.38,98.11 L454.88,98.79 L455.38,100.90 L455.88,104.38 L456.38,109.18 L456.88,115.19 L457.38,122.30 L457.88,130.37 L458.38,139.27 L458.88,148.84 L459.38,158.91 L459.88,169.32 L460.38,179.91 L460.88,190.55 L461.38,201.08 L461.88,211.38 L462.38,221.34 L462.88,230.87 L463.38,239.89 L463.88,248.34 L464.38,256.19 L464.88,263.42 L465.38,270.00 L465.88,275.95 L466.38,281.27 L466.88,286.01 L467.38,290.17 L467.88,293.82 L468.38,296.98 L468.88,299.70 L469.38,302.02 L469.88,303.98 L470.38,305.64 L470.88,307.02 L471.38,308.17 L471.88,309.11 L472.38,309.89 L472.88,310.52 L473.38,311.03 L473.88,311.44 L473.92,312.75 L434.88,310.46 Z" fill="rgb(100,100,176)" fill-opacity="0.35" stroke="none"/>
<path d="M434.88,309.19 L435.38,308.84 L435.88,308.39 L436.38,307.83 L436.88,307.13 L437.38,306.25 L437.88,305.18 L438.38,303.88 L438.88,302.31 L439.38,300.43 L439.88,298.19 L440.38,295.57 L440.88,292.50 L441.38,288.96 L441.88,284.89 L442.38,280.26 L442.88,275.04 L443.38,269.21 L443.88,262.73 L444.38,255.62 L444.88,247.88 L445.38,239.53 L445.88,230.61 L446.38,221.18 L446.88,211.31 L447.38,201.09 L447.88,190.63 L448.38,180.06 L448.88,169.51 L449.38,159.14 L449.88,149.10 L450.38,139.54 L450.88,130.64 L451.38,122.55 L451.88,115.42 L452.38,109.38 L452.88,104.54 L453.38,101.01 L453.88,98.85 L454.38,98.11 L454.88,98.79 L455.38,100.90 L455.88,104.38 L456.38,109.18 L456.88,115.19 L457.38,122.30 L457.88,130.37 L458.38,139.27 L458.88,148.84 L459.38,158.91 L459.88,169.32 L460.38,179.91 L460.88,190.55 L461.38,201.08 L461.88,211.38 L462.38,221.34 L462.88,230.87 L463.38,239.89 L463.88,248.34 L464.38,256.19 L464.88,263.42 L465.38,270.00 L465.88,275.95 L466.38,281.27 L466.88,286.01 L467.38,290.17 L467.88,293.82 L468.38,296.98 L468.88,299.70 L469.38,302.02 L469.88,303.98 L470.38,305.64 L470.88,307.02 L471.38,308.17 L471.88,309.11 L472.38,309.89 L472.88,310.52 L473.38,311.03 L473.88,311.44" fill="none" stroke="#4f7fbf" stroke-width="1.2"/>
<path d="M426.74,309.35 L427.24,309.18 L427.74,308.96 L428.24,308.67 L428.74,308.30 L429.24,307.84 L429.74,307.26 L430.24,306.55 L430.74,305.68 L431.24,304.63 L431.74,303.39 L432.24,301.91 L432.74,300.17 L433.24,298.16 L433.74,295.85 L434.24,293.22 L434.74,290.25 L435.24,286.93 L435.74,283.26 L436.24,279.25 L436.74,274.90 L437.24,270.24 L437.74,265.30 L438.24,260.13 L438.74,254.77 L439.24,249.31 L439.74,243.80 L440.24,238.33 L440.74,232.99 L441.24,227.87 L441.74,223.06 L442.24,218.67 L442.74,214.76 L443.24,211.43 L443.74,208.75 L444.24,206.77 L444.74,205.53 L445.24,205.07 L445.74,205.40 L446.24,206.51 L446.74,208.37 L447.24,210.95 L447.74,214.19 L448.24,218.02 L448.74,222.37 L449.24,227.14 L449.74,232.25 L450.24,237.61 L450.74,243.11 L451.24,248.68 L451.74,254.22 L452.24,259.67 L452.74,264.95 L453.24,270.01 L453.74,274.80 L454.24,279.28 L454.74,283.44 L455.24,287.25 L455.74,290.71 L456.24,293.82 L456.74,296.59 L457.24,299.04 L457.74,301.18 L458.24,303.03 L458.74,304.63 L459.24,305.99 L459.74,307.14 L460.24,308.11 L460.74,308.91 L461.24,309.58 L461.74,310.13 L462.24,310.58 L462.74,310.94 L463.24,311.24 L463.74,311.48 L463.86,312.16 L426.74,309.98 Z" fill="rgb(90,90,168)" fill-opacity="0.3" stroke="none"/>
<path d="M426.74,309.35 L427.24,309.18 L427.74,308.96 L428.24,308.67 L428.74,308.30 L429.24,307.84 L429.74,307.26 L430.24,306.55 L430.74,305.68 L431.24,304.63 L431.74,303.39 L432.24,301.91 L432.74,300.17 L433.24,298.16 L433.74,295.85 L434.24,293.22 L434.74,290.25 L435.24,286.93 L435.74,283.26 L436.24,279.25 L436.74,274.90 L437.24,270.24 L437.74,265.30 L438.24,260.13 L438.74,254.77 L439.24,249.31 L439.74,243.80 L440.24,238.33 L440.74,232.99 L441.24,227.87 L441.74,223.06 L442.24,218.67 L442.74,214.76 L443.24,211.43 L443.74,208.75 L444.24,206.77 L444.74,205.53 L445.24,205.07 L445.74,205.40 L446.24,206.51 L446.74,208.37 L447.24,210.95 L447.74,214.19 L448.24,218.02 L448.74,222.37 L449.24,227.14 L449.74,232.25 L450.24,237.61 L450.74,243.11 L451.24,248.68 L451.74,254.22 L452.24,259.67 L452.74,264.95 L453.24,270.01 L453.74,274.80 L454.24,279.28 L454.74,283.44 L455.24,287.25 L455.74,290.71 L456.24,293.82 L456.74,296.59 L457.24,299.04 L457.74,301.18 L458.24,303.03 L458.74,304.63 L459.24,305.99 L459.74,307.14 L460.24,308.11 L460.74,308.91 L461.24,309.58 L461.74,310.13 L462.24,310.58 L462.74,310.94 L463.24,311.24 L463.74,311.48" fill="none" stroke="#4f7fbf" stroke-width="1.2"/>
<path d="M51.20,289.00 L51.92,287.39 L52.94,285.07 L54.10,282.49 L55.20,280.10 L56.26,277.98 L57.36,275.91 L58.41,273.85 L59.30,271.80 L59.95,270.09 L60.42,268.61 L60.88,266.67 L61.50,263.60 L62.37,258.99 L63.38,253.28 L64.40,247.03 L65.30,240.80 L66.02,234.52 L66.63,227.95 L67.21,221.46 L67.80,215.40 L68.42,210.03 L69.05,205.11 L69.67,200.23 L70.30,195.00 L70.91,189.30 L71.51,183.36 L72.13,177.26 L72.80,171.10 L73.56,164.89 L74.38,158.57 L75.20,152.19 L76.00,145.80 L76.73,139.32 L77.43,132.76 L78.14,126.26 L78.90,120.00 L79.79,113.69 L80.76,107.34 L81.67,101.58 L82.40,97.00 L82.85,94.01 L83.11,92.20 L83.32,90.97 L83.60,89.70 L83.98,88.32 L84.38,87.12 L84.82,86.06 L85.30,85.10 L85.84,84.25 L86.42,83.52 L87.02,82.88 L87.60,82.30 L88.13,81.84 L88.62,81.49 L89.16,81.13 L89.80,80.60 L90.59,79.86 L91.47,78.99 L92.40,78.05 L93.30,77.10 L94.17,76.16 L95.04,75.20 L95.89,74.19 L96.70,73.10 L97.49,71.90 L98.26,70.62 L98.97,69.30 L99.60,68.00 L100.14,66.68 L100.60,65.33 L100.99,64.03 L101.30,62.90 L101.49,61.87 L101.58,60.91 L101.65,60.18 L101.80,59.80 L102.04,59.97 L102.32,60.56 L102.65,61.24 L103.00,61.70 L103.38,61.77 L103.78,61.64 L104.22,61.54 L104.70,61.70 L105.25,62.10 L105.85,62.65 L106.45,63.45 L107.00,64.60 L107.48,66.19 L107.92,68.14 L108.33,70.33 L108.70,72.60 L109.00,74.90 L109.25,77.31 L109.50,79.92 L109.80,82.80 L110.17,85.85 L110.57,89.08 L111.01,92.71 L111.50,97.00 L112.06,102.16 L112.69,108.00 L113.33,114.19 L113.90,120.40 L114.39,126.61 L114.83,132.98 L115.25,139.41 L115.70,145.80 L116.19,152.16 L116.69,158.54 L117.20,164.88 L117.70,171.10 L118.19,177.22 L118.68,183.27 L119.18,189.21 L119.70,195.00 L120.24,200.46 L120.81,205.68 L121.39,210.98 L122.00,216.70 L122.65,223.13 L123.33,230.02 L124.02,236.90 L124.70,243.30 L125.32,249.18 L125.92,254.75 L126.55,259.95 L127.30,264.70 L128.17,268.98 L129.12,272.84 L130.17,276.27 L131.30,279.30 L132.49,281.91 L133.75,284.09 L135.13,285.88 L136.70,287.30 L138.65,288.26 L140.89,288.77 L143.03,289.03 L144.70,289.20 L145.68,289.32 L146.22,289.29 L146.60,289.12 L147.10,288.80 L147.77,288.40 L148.47,287.90 L149.19,287.15 L149.90,286.00 L150.60,284.28 L151.30,282.10 L152.00,279.78 L152.70,277.60 L153.42,275.60 L154.15,273.62 L154.86,271.74 L155.50,270.00 L156.07,268.37 L156.59,266.84 L157.06,265.49 L157.50,264.40 L157.89,263.58 L158.24,262.99 L158.56,262.66 L158.90,262.60 L159.23,263.08 L159.56,264.00 L159.90,264.85 L160.30,265.10 L160.78,264.62 L161.31,263.68 L161.86,262.40 L162.40,260.90 L162.92,259.07 L163.42,256.89 L163.95,254.61 L164.50,252.50 L165.12,250.37 L165.78,248.18 L166.42,246.35 L167.00,245.30 L167.47,245.13 L167.88,245.62 L168.27,246.72 L168.70,248.40 L169.20,250.86 L169.72,254.06 L170.27,257.55 L170.80,260.90 L171.33,264.09 L171.85,267.32 L172.38,270.46 L172.90,273.40 L173.39,276.11 L173.86,278.67 L174.37,281.04 L175.00,283.20 L175.82,285.23 L176.76,287.11 L177.73,288.69 L178.60,289.80 L179.40,290.26 L180.18,290.21 L180.84,289.95 L181.30,289.80" fill="none" stroke="#000" stroke-width="1.75" stroke-linejoin="round" stroke-linecap="round"/><path d="M341.40,304.10 L342.42,304.04 L343.88,303.95 L345.48,303.81 L346.90,303.60 L348.09,303.29 L349.22,302.89 L350.26,302.45 L351.20,302.00 L352.00,301.58 L352.68,301.15 L353.32,300.65 L354.00,300.00 L354.75,299.23 L355.52,298.38 L356.28,297.33 L357.00,296.00 L357.68,294.33 L358.33,292.38 L358.94,290.23 L359.50,288.00 L360.00,285.64 L360.44,283.12 L360.84,280.55 L361.20,278.00 L361.52,275.45 L361.80,272.88 L362.05,270.36 L362.30,268.00 L362.54,265.83 L362.76,263.81 L362.98,261.88 L363.20,260.00 L363.37,258.42 L363.51,257.06 L363.72,255.45 L364.10,253.10 L364.72,249.80 L365.52,245.84 L366.38,241.46 L367.20,236.90 L367.98,232.00 L368.76,226.70 L369.52,221.40 L370.20,216.50 L370.77,212.25 L371.25,208.39 L371.73,204.54 L372.30,200.30 L373.00,195.36 L373.78,190.01 L374.56,184.72 L375.30,180.00 L375.93,176.07 L376.50,172.64 L377.10,169.41 L377.80,166.10 L378.66,162.55 L379.61,158.95 L380.61,155.50 L381.60,152.40 L382.58,149.72 L383.57,147.36 L384.55,145.24 L385.50,143.30 L386.37,141.60 L387.19,140.14 L388.04,138.81 L389.00,137.50 L390.13,136.23 L391.38,135.04 L392.64,133.85 L393.80,132.60 L394.83,131.07 L395.79,129.37 L396.70,127.88 L397.60,127.00 L398.50,126.97 L399.38,127.53 L400.22,128.32 L401.00,129.00 L401.71,129.34 L402.37,129.56 L402.97,130.01 L403.50,131.00 L403.94,132.43 L404.29,134.19 L404.63,136.60 L405.00,140.00 L405.44,144.79 L405.90,150.69 L406.36,156.99 L406.80,163.00 L407.20,168.73 L407.57,174.50 L407.94,180.02 L408.30,185.00 L408.62,188.89 L408.90,192.00 L409.23,195.36 L409.70,200.00 L410.34,206.45 L411.09,214.06 L411.93,222.15 L412.80,230.00 L413.74,237.81 L414.76,245.83 L415.78,253.44 L416.70,260.00 L417.47,265.24 L418.15,269.53 L418.83,273.23 L419.60,276.70 L420.50,279.82 L421.49,282.46 L422.50,285.00 L423.50,287.80 L424.48,291.40 L425.47,295.46 L426.45,299.02 L427.40,301.10 L428.29,301.42 L429.14,300.50 L430.02,298.61 L431.00,296.00 L432.20,292.43 L433.54,287.86 L434.81,282.89 L435.80,278.10 L436.39,273.75 L436.71,269.49 L436.93,265.01 L437.20,260.00 L437.51,254.59 L437.79,248.87 L438.13,242.47 L438.60,235.00 L439.27,225.94 L440.09,215.62 L440.94,205.00 L441.70,195.00 L442.35,185.78 L442.94,176.88 L443.49,168.28 L444.00,160.00 L444.46,151.80 L444.86,143.75 L445.24,136.33 L445.60,130.00 L445.96,125.18 L446.31,121.52 L446.62,118.35 L446.90,115.00 L447.11,111.40 L447.26,107.86 L447.40,104.32 L447.60,100.70 L447.87,96.86 L448.18,92.88 L448.50,89.00 L448.80,85.50 L449.05,82.47 L449.28,79.77 L449.54,77.26 L449.90,74.80 L450.39,72.38 L450.97,70.06 L451.60,67.84 L452.20,65.70 L452.81,63.21 L453.45,60.52 L454.04,58.49 L454.50,58.00 L454.78,59.58 L454.92,62.66 L455.03,66.47 L455.20,70.20 L455.47,73.81 L455.77,77.66 L456.10,81.61 L456.40,85.50 L456.68,89.33 L456.96,93.16 L457.23,96.97 L457.50,100.70 L457.78,104.32 L458.07,107.86 L458.35,111.40 L458.60,115.00 L458.81,118.35 L458.99,121.52 L459.18,125.18 L459.40,130.00 L459.67,136.45 L459.98,144.06 L460.30,152.15 L460.60,160.00 L460.88,167.15 L461.14,174.06 L461.41,181.45 L461.70,190.00 L462.00,200.78 L462.30,213.12 L462.63,225.16 L463.00,235.00 L463.42,241.51 L463.89,245.91 L464.38,249.85 L464.90,255.00 L465.47,262.30 L466.07,270.69 L466.67,278.84 L467.20,285.40 L467.56,289.76 L467.81,292.73 L468.13,295.08 L468.70,297.60 L469.62,300.53 L470.76,303.43 L472.03,306.10 L473.30,308.30 L474.57,309.94 L475.90,311.14 L477.25,312.05 L478.60,312.80 L480.07,313.36 L481.63,313.68 L483.03,313.86 L484.00,314.00" fill="none" stroke="#000" stroke-width="1.6" stroke-linejoin="round" stroke-linecap="round"/><path d="M23.00,294.20 L24.90,294.90 L27.00,293.00 L29.50,291.40 L31.30,294.60 L34.40,291.90 L38.00,293.30 L42.10,291.70 L44.80,290.60 L47.50,287.60 L48.90,284.90 L49.80,289.00 L51.20,289.00" fill="none" stroke="#000" stroke-width="1.6" stroke-linejoin="round" stroke-linecap="round"/><path d="M181.30,289.80 L183.60,292.30 L185.40,290.20 L186.80,290.70 L189.50,288.40 L192.20,290.20 L194.40,289.30 L196.70,287.50 L199.40,289.60 L203.00,290.70 L206.20,287.50 L208.00,288.10 L210.70,286.60 L213.90,289.30 L216.60,288.40 L220.20,287.00 L222.90,286.60 L224.30,287.30 L226.50,289.40 L228.80,286.70 L231.00,286.90 L233.80,285.20 L236.50,286.90 L240.10,288.20 L242.80,287.60 L246.40,289.40 L249.10,288.70 L250.90,286.90 L253.20,287.30 L258.20,285.20 L261.80,285.50 L264.50,286.70 L266.10,288.80 L269.00,286.10" fill="none" stroke="#000" stroke-width="1.6" stroke-linejoin="round" stroke-linecap="round"/><path d="M308.20,307.30 L310.80,319.30 L312.70,319.30 L314.60,313.60 L317.10,312.40 L322.20,300.90 L326.60,308.60 L329.20,317.40 L333.60,296.50 L336.20,311.10 L338.70,309.80 L341.40,302.50 L343.00,298.20 L344.70,301.40 L346.00,303.60 L347.70,304.70 L349.30,311.70 L350.60,306.90 L352.30,299.80 L353.40,296.00" fill="none" stroke="#000" stroke-width="1.5" stroke-linejoin="round" stroke-linecap="round"/><path d="M466.50,282.00 L468.00,290.00 L470.00,297.10 L472.90,299.00 L474.80,303.80 L477.60,300.90 L479.50,316.20 L482.40,308.50 L484.80,321.90 L487.10,312.40 L489.00,316.20 L491.90,300.90 L493.80,298.10 L495.70,300.90 L498.20,287.60 L500.50,300.00 L502.70,315.20 L505.20,302.80 L509.00,311.40 L511.90,303.80 L514.70,305.70 L517.20,300.00 L520.40,308.50 L523.30,307.60 L527.10,301.90 L530.00,296.20 L532.40,308.50 L534.70,292.40 L537.60,298.10" fill="none" stroke="#000" stroke-width="1.5" stroke-linejoin="round" stroke-linecap="round"/><path d="M377.80,166.10 L379.40,158.50 L383.20,149.40 L385.50,143.30 L386.20,137.20 L387.70,134.10 L389.30,134.90 L387.70,140.20 L390.80,139.50 L393.80,132.60 L397.60,126.50 L399.90,131.10 L400.70,143.30 L401.40,131.10 L403.00,128.80 L404.50,134.10 L405.30,147.80 L406.80,163.00" fill="none" stroke="#000" stroke-width="1.3" stroke-linejoin="round" stroke-linecap="round"/><path d="M420.00,282.00 L422.50,286.50 L426.00,293.40 L428.10,285.80 L430.20,292.00 L432.30,282.30 L434.00,287.00 L436.00,272.00" fill="none" stroke="#000" stroke-width="1.4" stroke-linejoin="round" stroke-linecap="round"/><path d="M84.20,88.50 L86.30,84.60 L88.60,83.60 L88.10,86.00 L89.60,82.60 L92.00,79.60 L93.40,76.90 L94.60,77.40 L96.70,73.10" fill="none" stroke="#000" stroke-width="1.3" stroke-linejoin="round" stroke-linecap="round"/>
<rect x="204.5" y="96.5" width="21" height="15" fill="#97cfa4" stroke="#3f8a55" stroke-width="1"/><rect x="204.5" y="112.5" width="21" height="12.2" fill="#fff" stroke="#000" stroke-width="1.1"/><rect x="204.5" y="125.3" width="21" height="6.4" fill="#efa6a8" stroke="#c07070" stroke-width="0.7"/><rect x="204.5" y="132.5" width="21" height="21" fill="#8f96d3" stroke="#2a2e66" stroke-width="1"/><text transform="translate(12.55,350.90) scale(0.8929,1)" x="-0.84" y="0" font-family="Liberation Sans, sans-serif" font-size="14.00" font-weight="bold" fill="#1a1a1a" stroke="#1a1a1a" stroke-width="0.280">107</text><text transform="translate(45.45,350.90) scale(0.8816,1)" x="-0.84" y="0" font-family="Liberation Sans, sans-serif" font-size="14.00" font-weight="bold" fill="#1a1a1a" stroke="#1a1a1a" stroke-width="0.284">105</text><text transform="translate(78.35,350.90) scale(0.8872,1)" x="-0.84" y="0" font-family="Liberation Sans, sans-serif" font-size="14.00" font-weight="bold" fill="#1a1a1a" stroke="#1a1a1a" stroke-width="0.282">103</text><text transform="translate(111.25,350.90) scale(0.8816,1)" x="-0.84" y="0" font-family="Liberation Sans, sans-serif" font-size="14.00" font-weight="bold" fill="#1a1a1a" stroke="#1a1a1a" stroke-width="0.284">101</text><text transform="translate(146.90,350.90) scale(0.9709,1)" x="-0.56" y="0" font-family="Liberation Sans, sans-serif" font-size="14.00" font-weight="bold" fill="#1a1a1a" stroke="#1a1a1a" stroke-width="0.257">99</text><text transform="translate(179.80,350.90) scale(0.9709,1)" x="-0.56" y="0" font-family="Liberation Sans, sans-serif" font-size="14.00" font-weight="bold" fill="#1a1a1a" stroke="#1a1a1a" stroke-width="0.257">97</text><text transform="translate(212.70,350.90) scale(0.9615,1)" x="-0.56" y="0" font-family="Liberation Sans, sans-serif" font-size="14.00" font-weight="bold" fill="#1a1a1a" stroke="#1a1a1a" stroke-width="0.260">95</text><text transform="translate(245.60,350.90) scale(0.9709,1)" x="-0.56" y="0" font-family="Liberation Sans, sans-serif" font-size="14.00" font-weight="bold" fill="#1a1a1a" stroke="#1a1a1a" stroke-width="0.257">93</text><text transform="translate(297.75,350.90) scale(0.8816,1)" x="-0.84" y="0" font-family="Liberation Sans, sans-serif" font-size="14.00" font-weight="bold" fill="#1a1a1a" stroke="#1a1a1a" stroke-width="0.284">108</text><text transform="translate(343.53,350.90) scale(0.8816,1)" x="-0.84" y="0" font-family="Liberation Sans, sans-serif" font-size="14.00" font-weight="bold" fill="#1a1a1a" stroke="#1a1a1a" stroke-width="0.284">105</text><text transform="translate(389.31,350.90) scale(0.8872,1)" x="-0.84" y="0" font-family="Liberation Sans, sans-serif" font-size="14.00" font-weight="bold" fill="#1a1a1a" stroke="#1a1a1a" stroke-width="0.282">102</text><text transform="translate(437.84,350.90) scale(0.9709,1)" x="-0.56" y="0" font-family="Liberation Sans, sans-serif" font-size="14.00" font-weight="bold" fill="#1a1a1a" stroke="#1a1a1a" stroke-width="0.257">99</text><text transform="translate(483.62,350.90) scale(0.9709,1)" x="-0.56" y="0" font-family="Liberation Sans, sans-serif" font-size="14.00" font-weight="bold" fill="#1a1a1a" stroke="#1a1a1a" stroke-width="0.257">96</text><text transform="translate(529.40,350.90) scale(0.9709,1)" x="-0.56" y="0" font-family="Liberation Sans, sans-serif" font-size="14.00" font-weight="bold" fill="#1a1a1a" stroke="#1a1a1a" stroke-width="0.257">93</text><text transform="translate(90.60,371.00) scale(1.0128,1)" x="-0.92" y="0" font-family="Liberation Sans, sans-serif" font-size="13.15" font-weight="bold" fill="#1a1a1a" stroke="#1a1a1a" stroke-width="0.247">Binding Energy / eV</text><text transform="translate(366.20,371.00) scale(1.0128,1)" x="-0.92" y="0" font-family="Liberation Sans, sans-serif" font-size="13.15" font-weight="bold" fill="#1a1a1a" stroke="#1a1a1a" stroke-width="0.247">Binding Energy / eV</text><text transform="translate(19.60,223.80) rotate(-90) scale(1.0231,1)" x="-0.50" y="0" font-family="Liberation Sans, sans-serif" font-size="12.60" font-weight="bold" fill="#1a1a1a" stroke="#1a1a1a" stroke-width="0.293">Counts per second</text><text transform="translate(311.00,239.90) rotate(-90) scale(1.0798,1)" x="-0.48" y="0" font-family="Liberation Sans, sans-serif" font-size="12.05" font-weight="bold" fill="#1a1a1a" stroke="#1a1a1a" stroke-width="0.278">Counts per second</text><text transform="translate(12.70,56.80) scale(1.0455,1)" x="-1.30" y="0" font-family="Liberation Sans, sans-serif" font-size="43.19" font-weight="bold" fill="#000">A</text><text transform="translate(307.50,56.80) scale(0.8047,1)" x="-3.02" y="0" font-family="Liberation Sans, sans-serif" font-size="43.19" font-weight="bold" fill="#000">B</text><text transform="translate(34.20,171.60) scale(0.9470,1)" x="-0.93" y="0" font-family="Liberation Sans, sans-serif" font-size="18.63" font-weight="normal" fill="#a31c3a" stroke="#a31c3a" stroke-width="0.845">SiO</text><text transform="translate(63.00,176.70) scale(1.0412,1)" x="-0.68" y="0" font-family="Liberation Sans, sans-serif" font-size="13.57" font-weight="normal" fill="#a31c3a" stroke="#a31c3a" stroke-width="0.528">2</text><text transform="translate(334.50,186.60) scale(0.9368,1)" x="-0.93" y="0" font-family="Liberation Sans, sans-serif" font-size="18.63" font-weight="normal" fill="#a31c3a" stroke="#a31c3a" stroke-width="0.854">SiO</text><text transform="translate(363.00,191.70) scale(1.0412,1)" x="-0.68" y="0" font-family="Liberation Sans, sans-serif" font-size="13.57" font-weight="normal" fill="#a31c3a" stroke="#a31c3a" stroke-width="0.528">2</text><text transform="translate(119.90,124.40) scale(0.9481,1)" x="-0.91" y="0" font-family="Liberation Sans, sans-serif" font-size="18.22" font-weight="normal" fill="#2e8a55" stroke="#2e8a55" stroke-width="0.844">Si</text><text transform="translate(134.70,129.70) scale(0.8769,1)" x="-0.61" y="0" font-family="Liberation Sans, sans-serif" font-size="15.29" font-weight="normal" fill="#2e8a55" stroke="#2e8a55" stroke-width="0.627">3</text><text transform="translate(144.20,124.40) scale(0.9913,1)" x="-1.54" y="0" font-family="Liberation Sans, sans-serif" font-size="19.28" font-weight="normal" fill="#2e8a55" stroke="#2e8a55" stroke-width="0.807">N</text><text transform="translate(156.80,129.70) scale(0.8851,1)" x="-0.31" y="0" font-family="Liberation Sans, sans-serif" font-size="15.51" font-weight="normal" fill="#2e8a55" stroke="#2e8a55" stroke-width="0.621">4</text><text transform="translate(376.10,118.80) scale(0.9204,1)" x="-0.94" y="0" font-family="Liberation Sans, sans-serif" font-size="18.77" font-weight="normal" fill="#2e8a55" stroke="#2e8a55" stroke-width="0.869">Si</text><text transform="translate(390.90,124.10) scale(0.8769,1)" x="-0.61" y="0" font-family="Liberation Sans, sans-serif" font-size="15.29" font-weight="normal" fill="#2e8a55" stroke="#2e8a55" stroke-width="0.627">3</text><text transform="translate(400.40,118.80) scale(0.9623,1)" x="-1.59" y="0" font-family="Liberation Sans, sans-serif" font-size="19.86" font-weight="normal" fill="#2e8a55" stroke="#2e8a55" stroke-width="0.831">N</text><text transform="translate(413.00,124.10) scale(0.8851,1)" x="-0.31" y="0" font-family="Liberation Sans, sans-serif" font-size="15.51" font-weight="normal" fill="#2e8a55" stroke="#2e8a55" stroke-width="0.621">4</text><text transform="translate(158.30,216.60) scale(0.9080,1)" x="-0.55" y="0" font-family="Liberation Sans, sans-serif" font-size="18.36" font-weight="bold" fill="#2a64a0">Si</text><text transform="translate(146.30,238.80) scale(0.9124,1)" x="-0.82" y="0" font-family="Liberation Sans, sans-serif" font-size="20.41" font-weight="bold" fill="#2a64a0">elem</text><text transform="translate(446.80,21.80) scale(0.9329,1)" x="-0.56" y="0" font-family="Liberation Sans, sans-serif" font-size="18.63" font-weight="bold" fill="#4f7fb2">Si</text><text transform="translate(434.50,43.10) scale(0.9574,1)" x="-0.78" y="0" font-family="Liberation Sans, sans-serif" font-size="19.45" font-weight="bold" fill="#4f7fb2">elem</text><text transform="translate(232.60,106.50) scale(0.9577,1)" x="-0.55" y="0" font-family="Liberation Sans, sans-serif" font-size="11.10" font-weight="normal" fill="#0e0c0d" stroke="#0e0c0d" stroke-width="0.365">2.5nm Si</text><text transform="translate(273.60,106.50) scale(1.6189,1)" x="-0.26" y="0" font-family="Liberation Sans, sans-serif" font-size="6.57" font-weight="normal" fill="#0e0c0d" stroke="#0e0c0d" stroke-width="0.216">3</text><text transform="translate(282.90,106.50) scale(0.9583,1)" x="-0.94" y="0" font-family="Liberation Sans, sans-serif" font-size="11.74" font-weight="normal" fill="#0e0c0d" stroke="#0e0c0d" stroke-width="0.365">N</text><text transform="translate(290.40,106.50) scale(1.0588,1)" x="-0.13" y="0" font-family="Liberation Sans, sans-serif" font-size="6.67" font-weight="normal" fill="#0e0c0d" stroke="#0e0c0d" stroke-width="0.331">4</text><text transform="translate(232.90,121.70) scale(1.0804,1)" x="-0.54" y="0" font-family="Liberation Sans, sans-serif" font-size="10.82" font-weight="normal" fill="#0e0c0d" stroke="#0e0c0d" stroke-width="0.324">2nm HfO</text><text transform="translate(279.00,121.70) scale(1.2815,1)" x="-0.27" y="0" font-family="Liberation Sans, sans-serif" font-size="5.43" font-weight="normal" fill="#0e0c0d" stroke="#0e0c0d" stroke-width="0.273">2</text><text transform="translate(234.00,132.60) scale(1.0120,1)" x="-0.88" y="0" font-family="Liberation Sans, sans-serif" font-size="10.96" font-weight="normal" fill="#0e0c0d" stroke="#0e0c0d" stroke-width="0.346">1nm SiO</text><text transform="translate(276.30,132.60) scale(1.2486,1)" x="-0.28" y="0" font-family="Liberation Sans, sans-serif" font-size="5.57" font-weight="normal" fill="#0e0c0d" stroke="#0e0c0d" stroke-width="0.280">2</text><text transform="translate(232.80,147.70) scale(0.9503,1)" x="-0.58" y="0" font-family="Liberation Sans, sans-serif" font-size="11.51" font-weight="normal" fill="#0e0c0d" stroke="#0e0c0d" stroke-width="0.368">Si Substrate</text>
</svg>
</body></html>
